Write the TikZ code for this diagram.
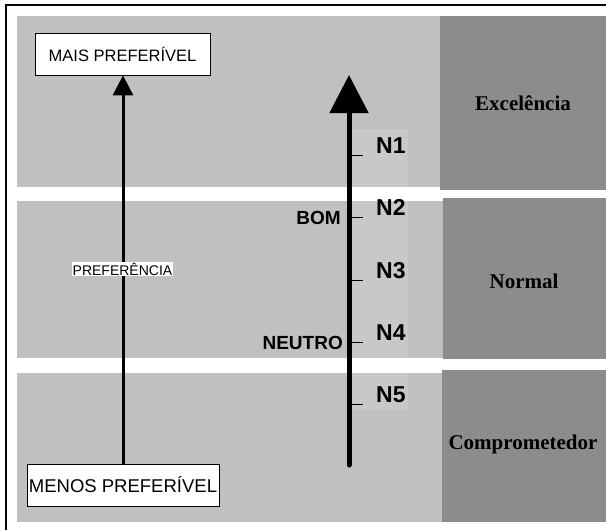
\documentclass[tikz,border=0pt]{standalone}
\usepackage{fontspec}
\setmainfont{Liberation Sans}
\newfontfamily\titfont{Liberation Serif}
\usepackage{tikz}
\usetikzlibrary{arrows.meta}

\definecolor{cinzaclaro}{gray}{0.753}
\definecolor{cinzaescuro}{gray}{0.549}
\definecolor{cinzacoluna}{gray}{0.784}

\begin{document}
\begin{tikzpicture}[x=1pt, y=-1pt,
	faixa/.style={fill=cinzaclaro},
	coluna/.style={fill=cinzacoluna},
	nivel/.style={fill=cinzaescuro},
	caixa/.style={draw, line width=0.8pt, fill=white, inner sep=0pt, minimum height=42pt},
	titulo/.style={font=\titfont\fontsize{21}{21}\selectfont\bfseries, inner sep=0pt},
	rotulo/.style={font=\fontsize{23}{23}\selectfont\bfseries, anchor=base west, inner sep=0pt},
	marca/.style={font=\fontsize{19}{19}\selectfont\bfseries, anchor=east, inner sep=0pt}]
	\useasboundingbox (0,0) rectangle (606,530);
	
	% faixas
	\fill[faixa] (17,16) rectangle (440,187);
	\fill[faixa] (17,201) rectangle (443,358);
	\fill[faixa] (17,373) rectangle (478,522);
	\fill[coluna] (349,129) rectangle (408,187);
	\fill[coluna] (349,201) rectangle (408,358);
	\fill[coluna] (349,373) rectangle (408,410);
	\fill[nivel] (440,16) rectangle (606,190);
	\fill[nivel] (443,198) rectangle (606,359);
	\fill[nivel] (442,370) rectangle (606,522);
	\draw[line width=2pt] (6,530) -- (6,5) -- (606,5);
	
	\node[titulo] (exc) at (523,103) {Excelência};
	\node[titulo] (nor) at (524,281) {Normal};
	\node[titulo] (com) at (523,444) {Comprometedor};
	
	% eixo de preferencia
	\node[caixa, minimum width=175pt, font=\fontsize{16.5}{16.5}\selectfont] (mais) at (122.5,54) {MAIS PREFERÍVEL};
	\node[caixa, minimum width=192pt, font=\fontsize{18.5}{18.5}\selectfont] (menos) at (123,485) {MENOS PREFERÍVEL};
	\draw[line width=3pt, -{Triangle[length=20pt, width=20pt]}] (menos.north) -- (menos.north |- mais.south);
	\node[fill=white, inner sep=1pt, font=\fontsize{14}{14}\selectfont] (pref) at (122.5,269) {PREFERÊNCIA};
	
	% escala
	\coordinate (base) at (349,465);
	\coordinate (topo) at (349,75);
	\draw[line width=5pt, line cap=round, -{Triangle[length=38pt, width=38pt]}] (base) -- (topo);
	\foreach \y [count=\i] in {155,217,280,342,404} {
		\coordinate (t\i) at (349,\y);
		\draw[line width=1pt] (t\i) -- ++(14,0);
		\node[rotulo] (n\i) at (376,\y-2) {N\i};
	}
	\node[marca] (bom) at (341,218) {BOM};
	\node[marca] (neutro) at (343,343) {NEUTRO};
\end{tikzpicture}
\end{document}
